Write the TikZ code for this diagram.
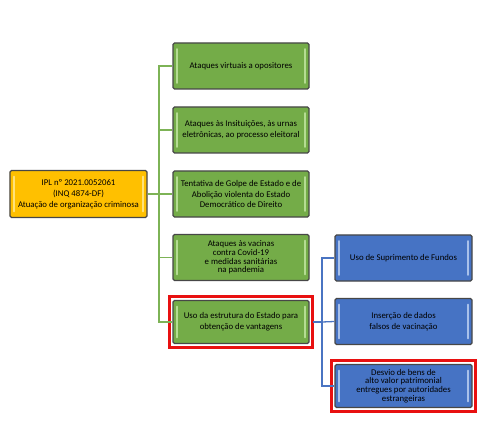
\documentclass[tikz,border=0pt]{standalone}
\usepackage{fontspec}
\setmainfont{Carlito}
\definecolor{gfill}{HTML}{74AC48}
\definecolor{glite}{HTML}{B5DC93}
\definecolor{yfill}{HTML}{FFC000}
\definecolor{ylite}{HTML}{FFE27A}
\definecolor{bfill}{HTML}{4673C4}
\definecolor{blite}{HTML}{A9C1EA}
\definecolor{gline}{HTML}{7DB356}
\definecolor{bline}{HTML}{4A74C2}
\definecolor{rborder}{HTML}{E81010}
\tikzset{
  box/.style={draw=black!72, line width=1.3bp, rounded corners=1.5bp,
    minimum width=136bp, minimum height=46bp, align=center,
    font=\fontsize{8.8}{11}\selectfont, inner sep=1bp},
  tight/.style={font=\fontsize{8.8}{8.7}\selectfont},
  bevel/.style={path picture={
    \draw[#1, line width=1.6bp, line cap=round]
      ([xshift=4bp,yshift=-6bp]path picture bounding box.north west) --
      ([xshift=4bp,yshift=6bp]path picture bounding box.south west);
    \draw[#1, line width=1.6bp, line cap=round]
      ([xshift=-4bp,yshift=-6bp]path picture bounding box.north east) --
      ([xshift=-4bp,yshift=6bp]path picture bounding box.south east);}},
  ybox/.style={box, fill=yfill, bevel=ylite, minimum width=137bp, minimum height=47bp},
  gbox/.style={box, fill=gfill, bevel=glite},
  bbox/.style={box, fill=bfill, bevel=blite, minimum width=137bp},
  gconn/.style={draw=gline, line width=1.3bp},
  bconn/.style={draw=bline, line width=1.3bp},
  hilite/.style={draw=rborder, line width=3.2bp}
}
\begin{document}
\begin{tikzpicture}[x=1bp,y=-1bp]
\useasboundingbox (0,0) rectangle (484,436);
\node[ybox] (y) at (78.5,194) {IPL nº 2021.0052061\\(INQ 4874-DF)\\Atuação de organização criminosa};
\node[gbox] (g1) at (241,66) {Ataques virtuais a opositores};
\node[gbox] (g2) at (241,130) {Ataques às Insituições, às urnas\\eletrônicas, ao processo eleitoral};
\node[gbox] (g3) at (241,194) {Tentativa de Golpe de Estado e de\\Abolição violenta do Estado\\Democrático de Direito};
\node[gbox, tight] (g4) at (241,257.5) {Ataques às vacinas\\contra Covid-19\\e medidas sanitárias\\na pandemia};
\node[gbox, minimum height=43bp] (g5) at (241,322) {Uso da estrutura do Estado para\\obtenção de vantagens};
\node[bbox] (b1) at (403.5,258) {Uso de Suprimento de Fundos};
\node[bbox] (b2) at (403.5,321.5) {Inserção de dados\\falsos de vacinação};
\node[bbox, tight, minimum height=43bp] (b3) at (403.5,386) {Desvio de bens de\\alto valor patrimonial\\entregues por autoridades\\estrangeiras};
% red highlights
\draw[hilite] ([xshift=-3bp,yshift=3bp]g5.north west) rectangle ([xshift=3bp,yshift=-3bp]g5.south east);
\draw[hilite] ([xshift=-3bp,yshift=3bp]b3.north west) rectangle ([xshift=3bp,yshift=-3bp]b3.south east);
% green connectors
\coordinate (gt) at (159,194);
\draw[gconn] (y.east) -- (gt);
\draw[gconn] (gt) |- (g1.west);
\draw[gconn] (gt) |- (g2.west);
\draw[gconn] (gt) -- (g3.west);
\draw[gconn] (gt) |- (g4.west);
\draw[gconn] (gt) |- (g5.west);
% blue connectors
\coordinate (bt) at (322,322);
\draw[bconn] ([xshift=3bp]g5.east) -- (bt);
\draw[bconn] (bt) |- (b1.west);
\draw[bconn] (bt) -- (b2.west);
\draw[bconn] (bt) |- (b3.west);
\end{tikzpicture}
\end{document}
